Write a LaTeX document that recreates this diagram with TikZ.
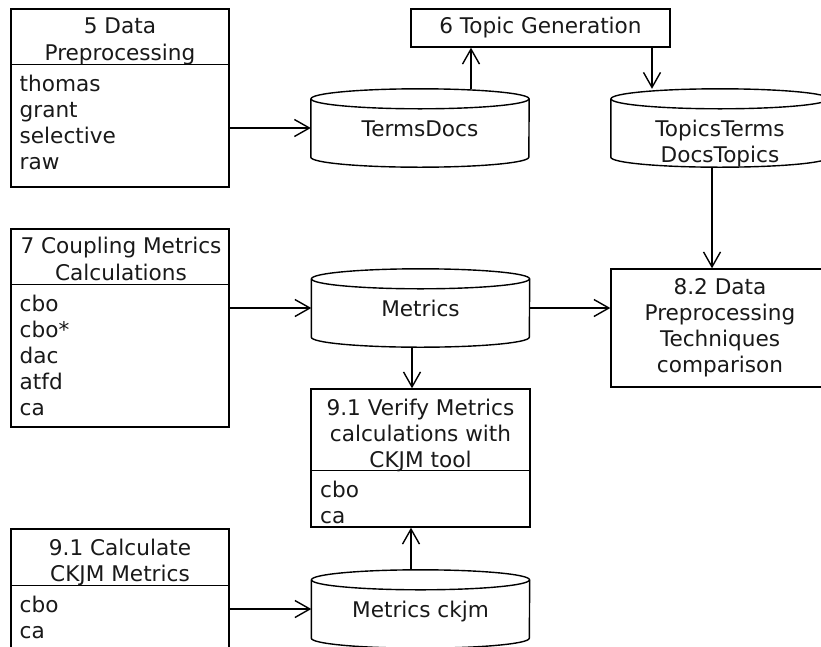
\documentclass[tikz,border=0pt]{standalone}
\usepackage{fontspec}
\setmainfont{DejaVu Sans}
\usetikzlibrary{arrows.meta}

\tikzset{
  lbl/.style={inner sep=0pt, font=\fontsize{21.6pt}{26pt}\selectfont, text=black!90, anchor=base},
  itm/.style={lbl, anchor=base west},
  frame/.style={draw, line width=1.4pt, inner sep=0pt},
  hold/.style={inner sep=0pt, draw=none, minimum width=218pt, minimum height=78pt},
  link/.style={line width=1.4pt, -{Straight Barb[length=15pt,width=17pt,line width=1.4pt]}},
  edge line/.style={line width=1.4pt},
}

% outline of a database drum around a named placeholder node
\newcommand{\drumoutline}[1]{%
  \draw[edge line] ([yshift=-10pt]#1.north) ellipse [x radius=109pt, y radius=10pt];
  \draw[edge line] ([yshift=-10pt]#1.north west) -- ([yshift=10pt]#1.south west)
     arc[start angle=180, end angle=360, x radius=109pt, y radius=10pt]
     -- ([yshift=-10pt]#1.north east);
}

\begin{document}
\begin{tikzpicture}[x=1pt, y=-1pt]
  \useasboundingbox (0,0) rectangle (821,646);
  \fill[white] (0,0) rectangle (821,646);
  \clip (0,0) rectangle (821,646);

  % ---- process boxes ----
  \node[frame, minimum width=218pt, minimum height=178pt] (dp) at (120,98) {};
  \node[frame, minimum width=259pt, minimum height=38pt] (tg) at (540.5,28) {};
  \node[frame, minimum width=218pt, minimum height=198pt] (cm) at (120,328) {};
  \node[frame, minimum width=218pt, minimum height=118pt] (cmp) at (720,328) {};
  \node[frame, minimum width=219pt, minimum height=138pt] (vf) at (420.5,458) {};
  \node[frame, minimum width=218pt, minimum height=142pt] (ck) at (120,600) {};

  % compartment dividers
  \draw[edge line] ([yshift=-56pt]dp.north west) -- ([yshift=-56pt]dp.north east);
  \draw[edge line] ([yshift=-56pt]cm.north west) -- ([yshift=-56pt]cm.north east);
  \draw[edge line] ([yshift=-82pt]vf.north west) -- ([yshift=-82pt]vf.north east);
  \draw[edge line] ([yshift=-57pt]ck.north west) -- ([yshift=-57pt]ck.north east);

  % ---- data stores ----
  \node[hold] (td) at (420,128) {};
  \node[hold] (tt) at (720,128) {};
  \node[hold] (mt) at (420.5,308) {};
  \node[hold] (mc) at (420.5,609) {};
  \drumoutline{td}
  \drumoutline{tt}
  \drumoutline{mt}
  \drumoutline{mc}

  % ---- titles ----
  \node[lbl] (dpT1) at (120,33) {5 Data};
  \node[lbl] (dpT2) at (120,60) {Preprocessing};
  \node[lbl] (tgT) at (540.5,33) {6 Topic Generation};
  \node[lbl] (tdT) at (420,136) {TermsDocs};
  \node[lbl] (ttT1) at (720,136) {TopicsTerms};
  \node[lbl] (ttT2) at (720,162) {DocsTopics};
  \node[lbl] (cmT1) at (121,253) {7 Coupling Metrics};
  \node[lbl] (cmT2) at (121,280) {Calculations};
  \node[lbl] (mtT) at (420.5,316) {Metrics};
  \node[lbl] (cmpT1) at (720,294) {8.2 Data};
  \node[lbl] (cmpT2) at (720,320) {Preprocessing};
  \node[lbl] (cmpT3) at (720,346) {Techniques};
  \node[lbl] (cmpT4) at (720,372) {comparison};
  \node[lbl] (vfT1) at (420.5,415) {9.1 Verify Metrics};
  \node[lbl] (vfT2) at (420.5,441) {calculations with};
  \node[lbl] (vfT3) at (420.5,467) {CKJM tool};
  \node[lbl] (ckT1) at (120,555) {9.1 Calculate};
  \node[lbl] (ckT2) at (120,581) {CKJM Metrics};
  \node[lbl] (mcT) at (420.5,617) {Metrics ckjm};

  % ---- compartment items ----
  \foreach \t [count=\i] in {thomas,grant,selective,raw}
    \node[itm] (dpI\i) at (19.5,{65+26*\i}) {\t};
  \foreach \t [count=\i] in {cbo,cbo*,dac,atfd,ca}
    \node[itm] (cmI\i) at (19.5,{285+26*\i}) {\t};
  \foreach \t [count=\i] in {cbo,ca}
    \node[itm] (vfI\i) at (320,{471+26*\i}) {\t};
  \foreach \t [count=\i] in {cbo,ca}
    \node[itm] (ckI\i) at (19.5,{586+26*\i}) {\t};

  % ---- flows ----
  \draw[link] (dp.east |- td.west) -- (td.west);
  \draw[link] ([xshift=51pt]td.north) -- ([xshift=51pt]td.north |- tg.south);
  \draw[link] ([xshift=111.5pt]tg.south) -- ([xshift=111.5pt]tg.south |- tt.north);
  \draw[link] ([xshift=-8pt]tt.south) -- ([xshift=-8pt]tt.south |- cmp.north);
  \draw[link] (cm.east |- mt.west) -- (mt.west);
  \draw[link] (mt.east) -- (mt.east -| cmp.west);
  \draw[link] ([xshift=-8.5pt]mt.south) -- ([xshift=-8.5pt]mt.south |- vf.north);
  \draw[link] (ck.east |- mc.west) -- (mc.west);
  \draw[link] ([xshift=-9.5pt]mc.north) -- ([xshift=-9.5pt]mc.north |- vf.south);
\end{tikzpicture}
\end{document}
